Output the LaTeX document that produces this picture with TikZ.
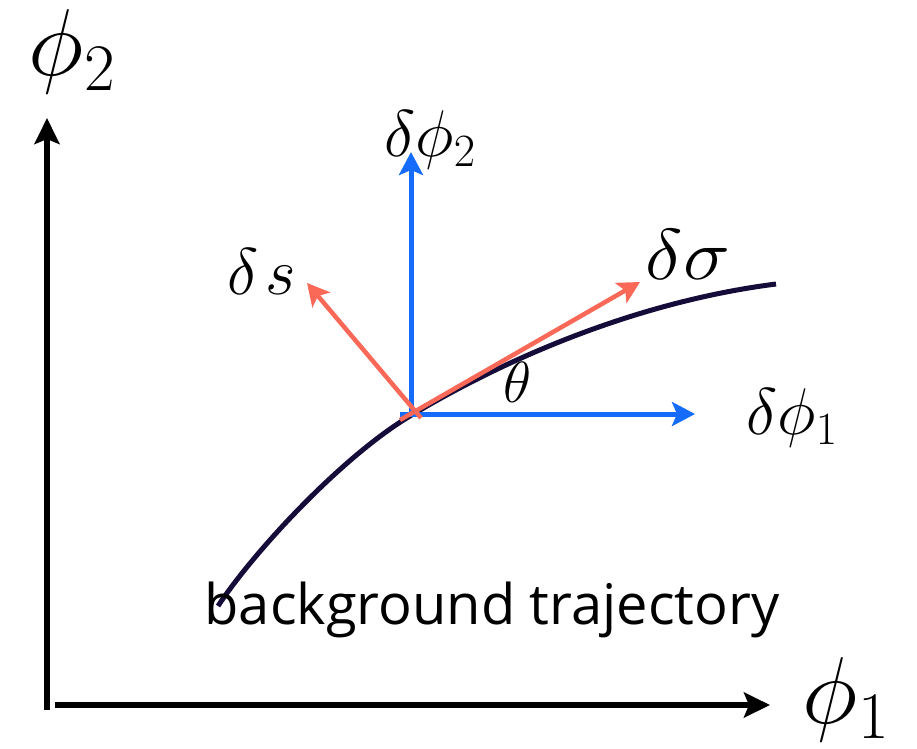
\RequirePackage{fix-cm}
\documentclass[tikz,border=0pt]{standalone}
\usepackage{fontspec}
\newfontfamily\trajfont{Open Sans}
\usetikzlibrary{arrows.meta}

\definecolor{vecblue}{RGB}{22,108,250}
\definecolor{vecred}{RGB}{250,104,88}
\definecolor{trajline}{RGB}{22,12,58}

\tikzset{
  axis/.style={line width=5.5pt, -{Stealth[length=26pt,width=25pt,inset=5pt]}},
  bluevec/.style={vecblue, line width=5pt, -{Stealth[length=23pt,width=24pt,inset=5pt]}},
  redvec/.style={vecred, line width=4.5pt, -{Stealth[length=22pt,width=23pt,inset=5pt]}},
  axislabel/.style={inner sep=0pt, font=\fontsize{95}{100}\selectfont},
  veclabel/.style={inner sep=0pt, font=\fontsize{66}{70}\selectfont},
}

\begin{document}
\begin{tikzpicture}[x=1pt, y=-1pt]
\useasboundingbox (0,0) rectangle (917,748);

% The axes
\coordinate (yfoot) at (47,710);
\coordinate (ytip) at (47,118);
\coordinate (xfoot) at (55,705);
\coordinate (xtip) at (770,705);
\draw[axis] (yfoot) -- (ytip);
\draw[axis] (xfoot) -- (xtip);
\node[axislabel] (phiTwo) at (72,52) {$\phi_2$};
\node[axislabel] (phiOne) at (846,700) {$\phi_1$};

% The background trajectory
\draw[trajline, line width=5pt] (218,606) .. controls (255,550) and (343,456) .. (410,416)
  .. controls (520,350) and (650,300) .. (776,284);
\node[font=\trajfont\fontsize{56}{60}\selectfont, inner sep=0pt, anchor=base] (traj)
  at (492,624) {background trajectory};

% The field basis
\coordinate (base) at (411,414);
\coordinate (hfoot) at (400,414);
\coordinate (dphiOneTip) at (695,414);
\coordinate (dphiTwoTip) at (411,152);
\draw[bluevec] (hfoot) -- (dphiOneTip);
\draw[bluevec] (base) -- (dphiTwoTip);
\node[veclabel] (dphiOne) at (792,418) {$\delta\phi_1$};
\node[veclabel] (dphiTwo) at (430,140) {$\delta\phi_2$};

% The rotated basis
\coordinate (sfoot) at (421,418);
\coordinate (sigfoot) at (400,420);
\coordinate (dsTip) at (307,283);
\coordinate (dsigTip) at (640,282);
\draw[redvec] (sfoot) -- (dsTip);
\draw[redvec] (sigfoot) -- (dsigTip);
\node[veclabel] (ds) at (262,272) {$\delta\mkern2mu s$};
\node[veclabel, font=\fontsize{72}{76}\selectfont, xscale=1.1] (dsig) at (688,254) {$\delta\sigma$};

% Angle
\node[veclabel, font=\fontsize{58}{60}\selectfont] (theta) at (518,382) {$\theta$};

\end{tikzpicture}
\end{document}
